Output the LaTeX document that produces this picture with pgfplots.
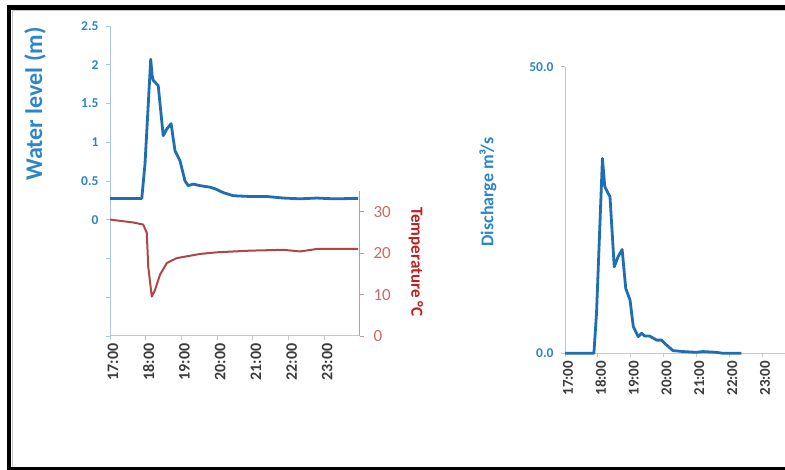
\documentclass[border=0pt]{standalone}
\usepackage{pgfplots}
\pgfplotsset{compat=1.18}
\usepackage{fontspec}
\setmainfont{Carlito}
\definecolor{wline}{RGB}{31,110,180}
\definecolor{waxis}{RGB}{170,200,228}
\definecolor{wtext}{RGB}{46,134,200}
\definecolor{tline}{RGB}{176,70,70}
\definecolor{taxis}{RGB}{200,150,150}
\definecolor{ttext}{RGB}{205,105,105}
\definecolor{tlabel}{RGB}{192,30,30}
\definecolor{gaxis}{RGB}{200,200,200}
\definecolor{gtext}{RGB}{60,60,60}
\definecolor{qaxis}{RGB}{180,200,215}
\begin{document}
\begin{tikzpicture}[x=1pt,y=1pt]
\useasboundingbox (0,0) rectangle (785,470);
\fill[white] (0,0) rectangle (785,470);
% water level
\begin{axis}[at={(110pt,134pt)}, anchor=south west, scale only axis,
  width=250pt, height=310pt, xmin=17, xmax=24, ymin=-1.5, ymax=2.5,
  axis y line*=left, axis x line*=bottom,
  tick align=outside, major tick length=4pt,
  y axis line style={waxis, line width=1pt},
  x axis line style={gaxis, line width=1pt},
  ytick={-1.5,-1,-0.5,0,0.5,1,1.5,2,2.5},
  yticklabels={,,,0,0.5,1,1.5,2,2.5},
  ytick style={waxis, line width=0.8pt},
  yticklabel style={font=\fontsize{13.5}{13.5}\selectfont\bfseries, text=wtext, xshift=-4pt},
  xtick={17,18,...,23},
  xticklabels={17:00,18:00,19:00,20:00,21:00,22:00,23:00},
  xtick style={gaxis, line width=0.8pt},
  xticklabel style={font=\fontsize{16}{16}\selectfont\bfseries, text=gtext, rotate=90, anchor=east, yshift=-3pt},
  clip=false]
\addplot[wline, line width=2.8pt, line join=round] coordinates {
(17.00,0.275) (17.89,0.275) (17.98,0.72) (18.14,2.07) (18.18,1.86) (18.21,1.80)
(18.35,1.73) (18.49,1.085) (18.59,1.17) (18.71,1.24) (18.82,0.89) (18.96,0.76)
(19.10,0.50) (19.19,0.44) (19.33,0.46) (19.52,0.44) (19.80,0.42) (19.94,0.40)
(20.17,0.35) (20.45,0.31) (20.92,0.30) (21.39,0.30) (21.85,0.28) (22.32,0.27)
(22.79,0.28) (23.25,0.27) (23.95,0.275)};
\end{axis}
% temperature
\begin{axis}[at={(110pt,134pt)}, anchor=south west, scale only axis,
  width=250pt, height=145pt, xmin=17, xmax=24, ymin=0, ymax=35,
  axis y line*=right, axis x line=none,
  tick align=outside, major tick length=4pt,
  y axis line style={taxis, line width=1pt},
  ytick={0,10,20,30},
  yticklabels={0,10,20,30},
  ytick style={taxis, line width=0.8pt},
  yticklabel style={font=\fontsize{17}{17}\selectfont, text=ttext, xshift=6pt}]
\addplot[tline, line width=2pt, line join=round] coordinates {
(17.00,28.1) (17.65,27.4) (17.93,26.9) (18.03,24.9) (18.07,16.8) (18.17,9.5)
(18.26,11.1) (18.40,14.8) (18.59,17.6) (18.87,18.8) (19.52,19.8) (19.99,20.2)
(20.92,20.6) (21.85,20.8) (22.10,20.6) (22.32,20.4) (22.79,21.0) (23.95,21.0)};
\end{axis}
% discharge
\begin{axis}[at={(565pt,116.7pt)}, anchor=south west, scale only axis,
  width=220pt, height=286.6pt, xmin=17, xmax=23.7, ymin=0, ymax=50,
  axis y line*=left, axis x line*=bottom,
  tick align=outside, major tick length=4pt,
  y axis line style={qaxis, line width=1pt},
  x axis line style={gaxis, line width=1pt},
  ytick={0,50}, yticklabels={0.0,50.0},
  ytick style={qaxis, line width=0.8pt},
  yticklabel style={font=\fontsize{13.5}{13.5}\selectfont\bfseries, text=wtext, xshift=-4pt},
  xtick={17,18,...,23},
  xticklabels={17:00,18:00,19:00,20:00,21:00,22:00,23:00},
  xtick style={gaxis, line width=0.8pt},
  xticklabel style={font=\fontsize{15}{15}\selectfont\bfseries, text=gtext, rotate=90, anchor=east, yshift=-3pt},
  clip=false]
\addplot[wline, line width=2.8pt, line join=round] coordinates {
(17.00,0) (17.88,0) (17.96,7.0) (18.14,34.0) (18.21,29.1) (18.37,27.3) (18.50,15.1)
(18.62,16.9) (18.74,18.1) (18.85,11.3) (18.98,9.3) (19.08,4.65) (19.23,2.9)
(19.33,3.5) (19.43,3.0) (19.58,3.0) (19.79,2.3) (19.94,2.3) (20.09,1.45)
(20.29,0.47) (20.60,0.3) (21.00,0.17) (21.20,0.3) (21.61,0.17) (21.81,0) (22.37,0)};
\end{axis}
% axis titles
\node[rotate=90, text=wtext, font=\fontsize{24}{24}\selectfont\bfseries] at (35,366) {Water level (m)};
\node[rotate=-90, text=tlabel, font=\fontsize{17}{17}\selectfont\bfseries] at (416,208) {Temperature °C};
\node[rotate=90, text=wtext, font=\fontsize{18}{18}\selectfont\bfseries] at (488,278) {Discharge m³/s};
% frame
\draw[gaxis, line width=1pt] (12,3) -- (12,459) -- (790,459);
\draw[black, line width=4.5pt] (9,1.5) -- (9,462.5) -- (790,462.5);
\draw[black, line width=3.5pt] (7,1.5) -- (790,1.5);
\end{tikzpicture}
\end{document}
